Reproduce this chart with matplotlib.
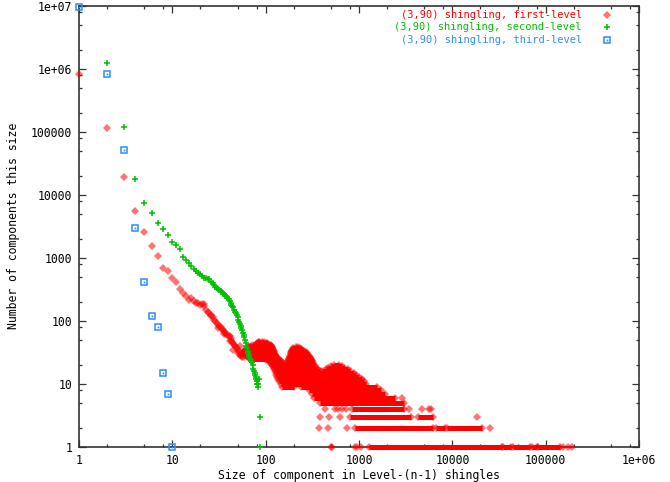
import numpy as np
import matplotlib
matplotlib.use("Agg")
import matplotlib.pyplot as plt
from matplotlib.ticker import LogLocator, FixedLocator, FixedFormatter, NullFormatter

# first-level: separate points (size, count)
first_sizes = [1, 2, 3, 4, 5, 6, 7, 8, 9, 10, 11, 12, 13, 14, 15, 16, 17, 18, 19, 20,
               21, 22, 23, 24, 25, 26, 27, 28, 29, 30, 31, 32, 33, 34, 35, 36, 37, 38, 39, 40,
               41, 42, 43, 44, 45, 46, 47, 48, 49, 50, 51, 52, 53, 54, 55, 56, 57, 58, 59, 60,
               61, 62, 63, 64, 22, 26, 31, 36, 41, 45, 53,
               500, 515, 900, 960, 1050, 155000, 175000, 190000,
               376, 466, 740, 25400,
               380, 475, 625, 18300,
               430, 552, 600, 650, 720, 3460, 4690, 5560, 5900,
               2860]
first_counts = [8.3e5, 1.16e5, 1.93e4, 5.6e3, 2.6e3, 1.57e3, 1080, 700, 620, 490, 420, 320, 275, 250, 215, 228, 205, 195, 190, 180,
                185, 170, 150, 140, 132, 125, 117, 104, 100, 92, 86, 84, 80, 75, 72, 68, 66, 62, 60, 58,
                57, 53, 50, 47, 44, 42, 40, 38, 37, 34, 31, 33, 29, 30, 28, 27, 30, 27, 32, 35,
                30, 35, 28, 38, 185, 120, 78, 62, 48, 35, 40,
                1, 1, 1, 1, 1, 1, 1, 1,
                2, 2, 2, 2,
                3, 3, 3, 3,
                4, 4, 4, 4, 4, 4, 4, 4, 4,
                6]

# first-level: runs of sizes sharing one count (count, first size, last size)
run_count = [47, 46, 45, 44, 43, 42, 41, 40, 39, 38, 38, 37, 37, 36, 36, 35, 35, 34, 34,
             33, 33, 32, 32, 31, 31, 30, 30, 29, 29, 28, 28, 27, 27, 26, 26, 25, 25,
             24, 24, 23, 23, 22, 22, 21, 21, 20, 20, 19, 19, 18, 18, 17, 17, 16, 16,
             15, 14, 13, 12, 11, 10, 9, 9, 8, 7, 6, 5,
             4, 3, 3, 2, 2, 2,
             1, 1, 1, 1, 1]
run_lo = [85, 84, 83, 80, 80, 76, 74, 70, 68, 66, 212, 64, 197, 63, 195, 60, 192, 60, 191,
          60, 190, 60, 188, 61, 187, 62, 186, 62, 185, 63, 184, 64, 183, 66, 180, 70, 178,
          100, 176, 108, 174, 112, 170, 115, 165, 118, 540, 120, 500, 122, 470, 124, 440, 126, 400,
          128, 130, 132, 135, 140, 145, 150, 240, 290, 310, 330, 380,
          840, 810, 4330, 905, 6720, 8800,
          1290, 35000, 45000, 71000, 83000]
run_hi = [92, 96, 100, 104, 106, 111, 113, 115, 116, 117, 222, 118, 235, 119, 240, 120, 245, 121, 250,
          122, 260, 123, 268, 124, 275, 125, 280, 126, 285, 128, 290, 129, 297, 135, 302, 137, 306,
          142, 310, 146, 314, 150, 318, 158, 322, 330, 610, 335, 650, 350, 690, 362, 760, 380, 800,
          880, 930, 1000, 1080, 1140, 1200, 200, 1540, 1700, 1900, 2420, 3035,
          3035, 3650, 6150, 6250, 8300, 21000,
          34000, 43000, 68000, 80000, 142000]

# second-level
second_sizes = list(range(2, 83)) + [83, 84, 88, 87]
second_counts = [1.23e6, 1.2e5, 1.8e4, 7.4e3, 5.1e3, 3.6e3, 2.9e3, 2.3e3, 1.8e3, 1.6e3, 1.4e3,
                 1030, 930, 830, 750, 680, 620, 580, 550, 520, 490, 480, 470, 460, 420, 400, 370,
                 350, 335, 320, 310, 295, 285, 270, 265, 255, 245, 230, 220, 205, 195, 180, 170,
                 165, 150, 140, 132, 125, 115, 105, 97, 90, 82, 78, 72, 64, 60, 55, 50, 45, 40,
                 37, 34, 31, 29, 27, 25, 24, 23, 22, 22, 20, 17, 16, 15, 14, 13, 12, 11, 10, 9,
                 10, 12, 3, 1]

# third-level
third_sizes = [1, 2, 3, 4, 5, 6, 7, 8, 9, 10]
third_counts = [9.5e6, 8.3e5, 5.2e4, 3.0e3, 410, 120, 80, 15, 7, 1]

labels = ["(3,90) shingling, first-level",
          "(3,90) shingling, second-level",
          "(3,90) shingling, third-level"]
red, green, blue = "#ff0000", "#00c000", "#2b8cff"

plt.rcParams['font.family'] = 'DejaVu Sans Mono'
fs = 8.3

fig = plt.figure(figsize=(6.7, 4.82), dpi=100)
ax = fig.add_axes([79/670, 1-447/482, 560/670, 441/482])
ax.set_xscale('log')
ax.set_yscale('log')
ax.set_xlim(1, 1e6)
ax.set_ylim(1, 1e7)

# runs drawn as thick horizontal strokes with diamond ends
rx, ry = [], []
for c, lo, hi in zip(run_count, run_lo, run_hi):
    rx += [lo, hi, np.nan]
    ry += [c, c, np.nan]
ax.plot(rx, ry, '-', color=red, lw=3.6, solid_capstyle='butt', clip_on=False, zorder=3)
ax.plot(run_lo + run_hi, run_count + run_count, 'D', color=red, ms=4, mew=0, alpha=0.55,
        clip_on=False, zorder=3)

ax.plot(first_sizes, first_counts, 'D', color=red, ms=4, mew=0, alpha=0.55, clip_on=False, zorder=3)
ax.plot(second_sizes, second_counts, '+', color=green, ms=4.6, mew=1.1, clip_on=False, zorder=4)
ax.plot(third_sizes, third_counts, 's', mfc='none', mec=blue, ms=4.2, mew=1.1, clip_on=False, zorder=4)
ax.plot(third_sizes, third_counts, 's', color=blue, ms=1.2, mew=0, clip_on=False, zorder=4)

# legend, gnuplot style: text right-aligned, sample after it
lfs = 7.5
ly = [0.980, 0.952, 0.924]
for lab, col, y in zip(labels, [red, green, blue], ly):
    ax.text(0.898, y, lab, color=col, fontsize=lfs, ha='right', va='center', transform=ax.transAxes)
ax.plot([0.943], [ly[0]], 'D', color=red, ms=4, mew=0, alpha=0.55, transform=ax.transAxes)
ax.plot([0.943], [ly[1]], '+', color=green, ms=4.6, mew=1.1, transform=ax.transAxes)
ax.plot([0.943], [ly[2]], 's', mfc='none', mec=blue, ms=4.2, mew=1.1, transform=ax.transAxes)
ax.plot([0.943], [ly[2]], 's', color=blue, ms=1.2, mew=0, transform=ax.transAxes)

xt = [1, 10, 100, 1000, 1e4, 1e5, 1e6]
xtl = ["1", "10", "100", "1000", "10000", "100000", "1e+06"]
yt = [1, 10, 100, 1000, 1e4, 1e5, 1e6, 1e7]
ytl = ["1", "10", "100", "1000", "10000", "100000", "1e+06", "1e+07"]
ax.xaxis.set_major_locator(FixedLocator(xt))
ax.xaxis.set_major_formatter(FixedFormatter(xtl))
ax.yaxis.set_major_locator(FixedLocator(yt))
ax.yaxis.set_major_formatter(FixedFormatter(ytl))
ax.xaxis.set_minor_locator(LogLocator(base=10, subs=(2, 5, 8)))
ax.yaxis.set_minor_locator(LogLocator(base=10, subs=(2, 5, 8)))
ax.xaxis.set_minor_formatter(NullFormatter())
ax.yaxis.set_minor_formatter(NullFormatter())
ax.tick_params(which='both', direction='in', top=True, right=True, color='#333333', width=0.9)
ax.tick_params(which='major', length=5, labelsize=fs, pad=5)
ax.tick_params(which='minor', length=2.5)
for s in ax.spines.values():
    s.set_color('#333333')
    s.set_linewidth(1.2)

fig.text(359/670, 1-475/482, "Size of component in Level-(n-1) shingles", fontsize=fs, ha='center', va='center')
fig.text(14/670, 1-226/482, "Number of components this size", fontsize=fs, ha='center', va='center', rotation=90)

fig.savefig("out.png", dpi=100)
